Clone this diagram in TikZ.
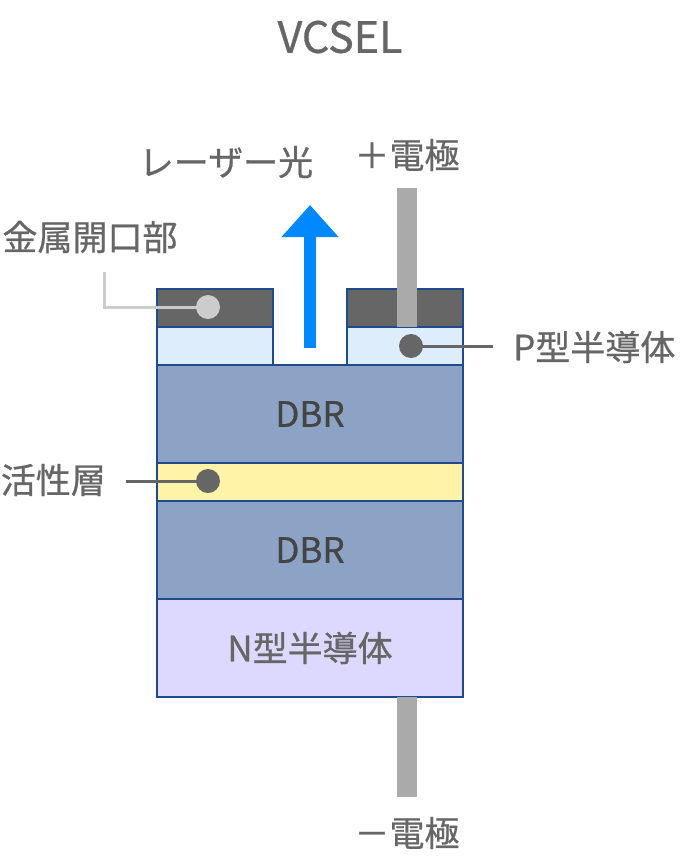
\documentclass[tikz,border=0pt]{standalone}
\usepackage{fontspec}
\setmainfont{Noto Sans CJK JP}[FakeBold=0.7]
\usetikzlibrary{arrows.meta}
\definecolor{txt}{HTML}{666666}
\definecolor{dbrtxt}{HTML}{444444}
\definecolor{edge}{HTML}{1F4A8C}
\definecolor{metal}{HTML}{666666}
\definecolor{pblue}{HTML}{DDEDFC}
\definecolor{dbrc}{HTML}{8DA3C6}
\definecolor{actc}{HTML}{FFF3A8}
\definecolor{nc}{HTML}{DDD8FD}
\definecolor{barc}{HTML}{AAAAAA}
\definecolor{lightc}{HTML}{CCCCCC}
\definecolor{laser}{HTML}{0088FF}
\begin{document}
\begin{tikzpicture}[x=1pt,y=-1pt,
  layer/.style={draw=edge, line width=2pt, rectangle, inner sep=0pt, outer sep=0pt},
  lbl/.style={text=txt, font=\fontsize{35}{40}\selectfont, inner sep=0pt},
  bar/.style={draw=barc, line width=20pt},
  dotc/.style={circle, minimum size=24pt, inner sep=0pt, outer sep=0pt},
  callout/.style={line width=3pt}
]
\useasboundingbox (0,0) rectangle (680,860);
% layers
\node[layer, fill=metal, minimum width=116pt, minimum height=38pt] (metalL) at (215,308) {};
\node[layer, fill=pblue, minimum width=116pt, minimum height=38pt] (pL) at (215,346) {};
\node[layer, fill=metal, minimum width=116pt, minimum height=38pt] (metalR) at (405,308) {};
\node[layer, fill=pblue, minimum width=116pt, minimum height=38pt] (pR) at (405,346) {};
\node[layer, fill=dbrc, minimum width=306pt, minimum height=98pt, text=dbrtxt, font=\fontsize{35}{40}\selectfont] (dbr1) at (310,414) {DBR};
\node[layer, fill=actc, minimum width=306pt, minimum height=38pt] (act) at (310,482) {};
\node[layer, fill=dbrc, minimum width=306pt, minimum height=98pt, text=dbrtxt, font=\fontsize{35}{40}\selectfont] (dbr2) at (310,550) {DBR};
\node[layer, fill=nc, minimum width=306pt, minimum height=98pt, text=txt, font=\fontsize{35}{40}\selectfont] (nlay) at (310,648) {N型半導体};
% electrodes
\coordinate (ptop) at (407,188);
\coordinate (nbot) at (407,797);
\draw[bar] (ptop) -- (ptop |- metalR.south);
\draw[bar] (ptop |- nlay.south) -- (nbot);
% laser arrow
\coordinate (lbase) at (310,348);
\coordinate (ltip) at (310,205);
\draw[draw=laser, line width=12pt, -{Triangle[width=55pt,length=32pt]}] (lbase) -- (ltip);
% labels
\node[lbl, font=\fontsize{43}{48}\selectfont] (title) at (340,37) {VCSEL};
\node[lbl] (laserlbl) at (226,162) {レーザー光};
\node[lbl] (plus) at (407,155) {＋電極};
\node[lbl] (minus) at (407,833) {－電極};
\node[lbl] (metallbl) at (90,237) {金属開口部};
\node[lbl, anchor=west] (plbl) at (513,347) {P型半導体};
\node[lbl, anchor=east] (actlbl) at (106,480) {活性層};
% callouts
\node[dotc, fill=lightc] (dm) at (208,307) {};
\coordinate (mstart) at (104,272);
\draw[callout, draw=lightc] (mstart) |- (dm.center);
\node[dotc, fill=metal] (dp) at (411,346) {};
\coordinate (pend) at (493,346);
\draw[callout, draw=metal] (dp.center) -- (pend);
\node[dotc, fill=metal] (da) at (208,481) {};
\coordinate (astart) at (126,481);
\draw[callout, draw=metal] (astart) -- (da.center);
\end{tikzpicture}
\end{document}
